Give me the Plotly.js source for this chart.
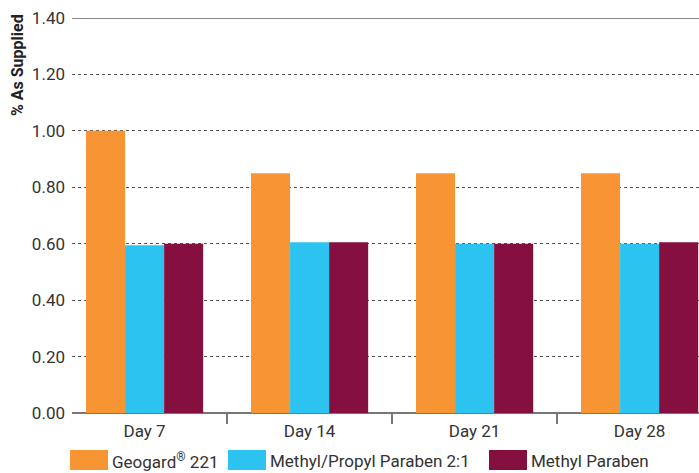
<!DOCTYPE html>
<html>
<head>
<meta charset="utf-8">
<script src="https://cdn.plot.ly/plotly-3.0.1.min.js"></script>
<style>html,body{margin:0;padding:0;background:#fff}#chart{width:699px;height:473px}</style>
</head>
<body>
<div id="chart"></div>
<script>
const categories = ["Day 7", "Day 14", "Day 21", "Day 28"];
const seriesNames = ["Geogard® 221", "Methyl/Propyl Paraben 2:1", "Methyl Paraben"];
const geogard = [1.00, 0.85, 0.85, 0.85];
const methylPropyl = [0.595, 0.605, 0.60, 0.60];
const methylParaben = [0.60, 0.605, 0.60, 0.605];
const yTickVals = [0, 0.2, 0.4, 0.6, 0.8, 1.0, 1.2, 1.4];
const yTickText = ["0.00", "0.20", "0.40", "0.60", "0.80", "1.00", "1.20", "1.40"];

const colors = ["#F79433", "#2CC3F1", "#850F3F"];
const values = [geogard, methylPropyl, methylParaben];

const W = 699, H = 473;
const M = {l: 72, r: 0, t: 18, b: 60};
const pw = W - M.l - M.r, ph = H - M.t - M.b;
const px = x => (x - M.l) / pw;
const py = y => (H - M.b - y) / ph;

const traces = values.map((v, i) => ({
  type: "bar", x: categories, y: v, name: seriesNames[i],
  marker: {color: colors[i], line: {width: 0}}, hoverinfo: "x+y"
}));

const fontFam = "Roboto, 'DejaVu Sans', sans-serif";
const shapes = [
  {type: "line", xref: "paper", yref: "y", x0: 0, x1: 1, y0: 1.4, y1: 1.4, line: {color: "#111", width: 1.2}}
];
const annotations = [
  {xref: "paper", yref: "paper", x: px(18), y: py(65), text: "<b>% As Supplied</b>", textangle: -90,
   showarrow: false, font: {family: fontFam, size: 16, color: "#222"}, xanchor: "center", yanchor: "middle"}
];
const legendX = [70, 228, 489];
seriesNames.forEach((n, i) => {
  const x0 = legendX[i];
  shapes.push({type: "rect", xref: "paper", yref: "paper", x0: px(x0), x1: px(x0 + 38), y0: py(470), y1: py(450),
    fillcolor: colors[i], line: {width: 0}});
  annotations.push({xref: "paper", yref: "paper", x: px(x0 + 40), y: py(461),
    text: n.replace("®", "<sup>®</sup>"), showarrow: false,
    xanchor: "left", yanchor: "middle", font: {family: fontFam, size: 17, color: "#333"}});
});

const layout = {
  width: W, height: H,
  margin: M,
  paper_bgcolor: "#fff", plot_bgcolor: "#fff",
  showlegend: false,
  barmode: "group", bargap: 0.29, bargroupgap: 0,
  font: {family: fontFam, color: "#333"},
  xaxis: {
    type: "category", range: [-0.44, 3.36],
    tickson: "boundaries", ticks: "outside", ticklen: 10, tickcolor: "#777", tickwidth: 1.5,
    ticklabelstandoff: 6,
    showgrid: false, showline: false, zeroline: false,
    tickfont: {family: fontFam, size: 17, color: "#333"}
  },
  yaxis: {
    range: [0, 1.4], tickvals: yTickVals, ticktext: yTickText,
    showgrid: true, gridcolor: "#555", griddash: "3px,3px", gridwidth: 1,
    zeroline: true, zerolinecolor: "#777", zerolinewidth: 1.5,
    ticks: "", ticklabelstandoff: 6,
    tickfont: {family: fontFam, size: 17, color: "#333"}
  },
  shapes, annotations
};

Plotly.newPlot("chart", traces, layout, {displayModeBar: false, staticPlot: true});
</script>
</body>
</html>
